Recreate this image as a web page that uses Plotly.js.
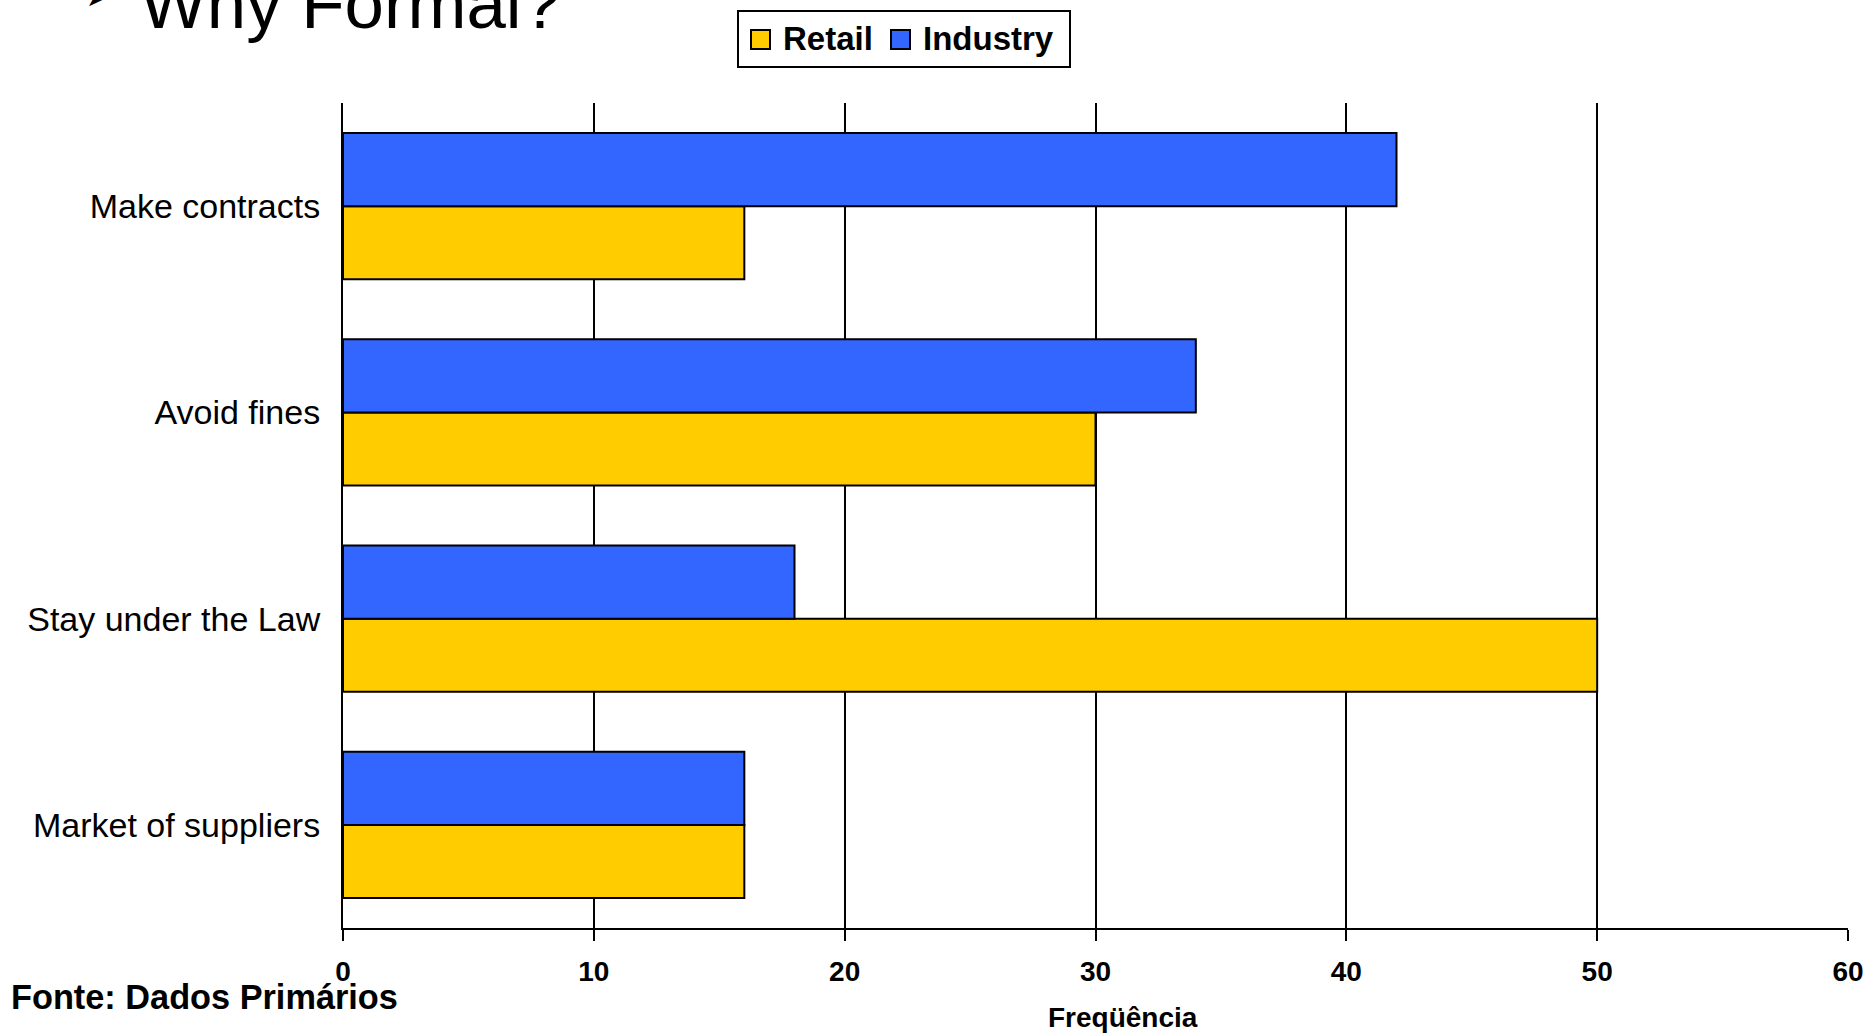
<!DOCTYPE html>
<html>
<head>
<meta charset="utf-8">
<script src="https://cdn.plot.ly/plotly-3.0.1.min.js"></script>
<style>
html,body{margin:0;padding:0;background:#fff;}
#chart{width:1870px;height:1033px;}
</style>
</head>
<body>
<div id="chart"></div>
<script>
const categories = ["Make contracts", "Avoid fines", "Stay under the Law", "Market of suppliers"];
const retailValues = [16, 30, 50, 16];
const industryValues = [42, 34, 18, 16];
const seriesNames = ["Retail", "Industry"];
const seriesColors = ["#FFCC00", "#3366FF"];
const xTicks = [0, 10, 20, 30, 40, 50, 60];
const titleText = "Why Formal?";
const xTitleText = "Freqüência";
const sourceText = "Fonte: Dados Primários";

const FONT = "Liberation Sans, Arial, sans-serif";
const W = 1870, H = 1033;
const M = {l: 343, r: 22, t: 103, b: 105};
const px = x => (x - M.l) / (W - M.l - M.r);
const py = y => (H - M.b - y) / (H - M.t - M.b);

const traces = [
  {
    type: "bar", orientation: "h", name: seriesNames[0],
    y: categories, x: retailValues,
    marker: {color: seriesColors[0], line: {color: "#000", width: 2}},
    hoverinfo: "x+y"
  },
  {
    type: "bar", orientation: "h", name: seriesNames[1],
    y: categories, x: industryValues,
    marker: {color: seriesColors[1], line: {color: "#000", width: 2}},
    hoverinfo: "x+y"
  }
];

// custom legend (box, swatches, labels)
const legendShapes = [
  {type: "rect", xref: "paper", yref: "paper", x0: px(738), x1: px(1070), y0: py(67), y1: py(11),
   line: {color: "#000", width: 2}, fillcolor: "#fff", layer: "above"},
  {type: "rect", xref: "paper", yref: "paper", x0: px(751), x1: px(770), y0: py(49), y1: py(30),
   line: {color: "#000", width: 2}, fillcolor: seriesColors[0], layer: "above"},
  {type: "rect", xref: "paper", yref: "paper", x0: px(891), x1: px(910), y0: py(49), y1: py(30),
   line: {color: "#000", width: 2}, fillcolor: seriesColors[1], layer: "above"}
];
const legendLabels = [
  {text: seriesNames[0], xref: "paper", yref: "paper", x: px(781), y: py(39), xanchor: "left", yanchor: "middle",
   showarrow: false, font: {family: FONT, size: 33, color: "#000", weight: "bold"}},
  {text: seriesNames[1], xref: "paper", yref: "paper", x: px(921), y: py(39), xanchor: "left", yanchor: "middle",
   showarrow: false, font: {family: FONT, size: 33, color: "#000", weight: "bold"}}
];

const layout = {
  width: W, height: H,
  margin: {l: M.l, r: M.r, t: M.t, b: M.b, pad: 0},
  paper_bgcolor: "#fff", plot_bgcolor: "#fff",
  font: {family: FONT, color: "#000"},
  barmode: "group", bargap: 0.29, bargroupgap: 0,
  showlegend: false,
  xaxis: {
    range: [0, 60], tickvals: xTicks, ticktext: xTicks.map(String),
    showgrid: true, gridcolor: "#000", gridwidth: 2,
    zeroline: false, showline: true, linecolor: "#000", linewidth: 2,
    ticks: "outside", ticklen: 11, tickwidth: 2, tickcolor: "#000",
    tickfont: {family: FONT, size: 28, color: "#000", weight: "bold"},
    ticklabelstandoff: 6, fixedrange: true
  },
  yaxis: {
    type: "category",
    categoryorder: "array", categoryarray: categories.slice().reverse(),
    showgrid: false, zeroline: false, showline: true, linecolor: "#000", linewidth: 2,
    ticks: "", tickfont: {family: FONT, size: 34, color: "#000"},
    ticklabelstandoff: 14, fixedrange: true
  },
  shapes: legendShapes,
  annotations: [
    {text: "➤", xref: "paper", yref: "paper", x: px(83), y: py(-7), xanchor: "left", yanchor: "middle",
     showarrow: false, font: {family: "DejaVu Sans", size: 36, color: "#000"}},
    {text: titleText, xref: "paper", yref: "paper", x: px(138), y: py(4), xanchor: "left", yanchor: "middle",
     showarrow: false, font: {family: FONT, size: 70.8, color: "#000"}},
    {text: xTitleText, xref: "paper", yref: "paper", x: px(1123), y: py(1017), xanchor: "center", yanchor: "middle",
     showarrow: false, font: {family: FONT, size: 28, color: "#000", weight: "bold"}},
    {text: sourceText, xref: "paper", yref: "paper", x: px(9), y: py(997), xanchor: "left", yanchor: "middle",
     showarrow: false, font: {family: FONT, size: 34.3, color: "#000", weight: "bold"}}
  ].concat(legendLabels)
};

Plotly.newPlot("chart", traces, layout, {displayModeBar: false, staticPlot: true});
</script>
</body>
</html>
